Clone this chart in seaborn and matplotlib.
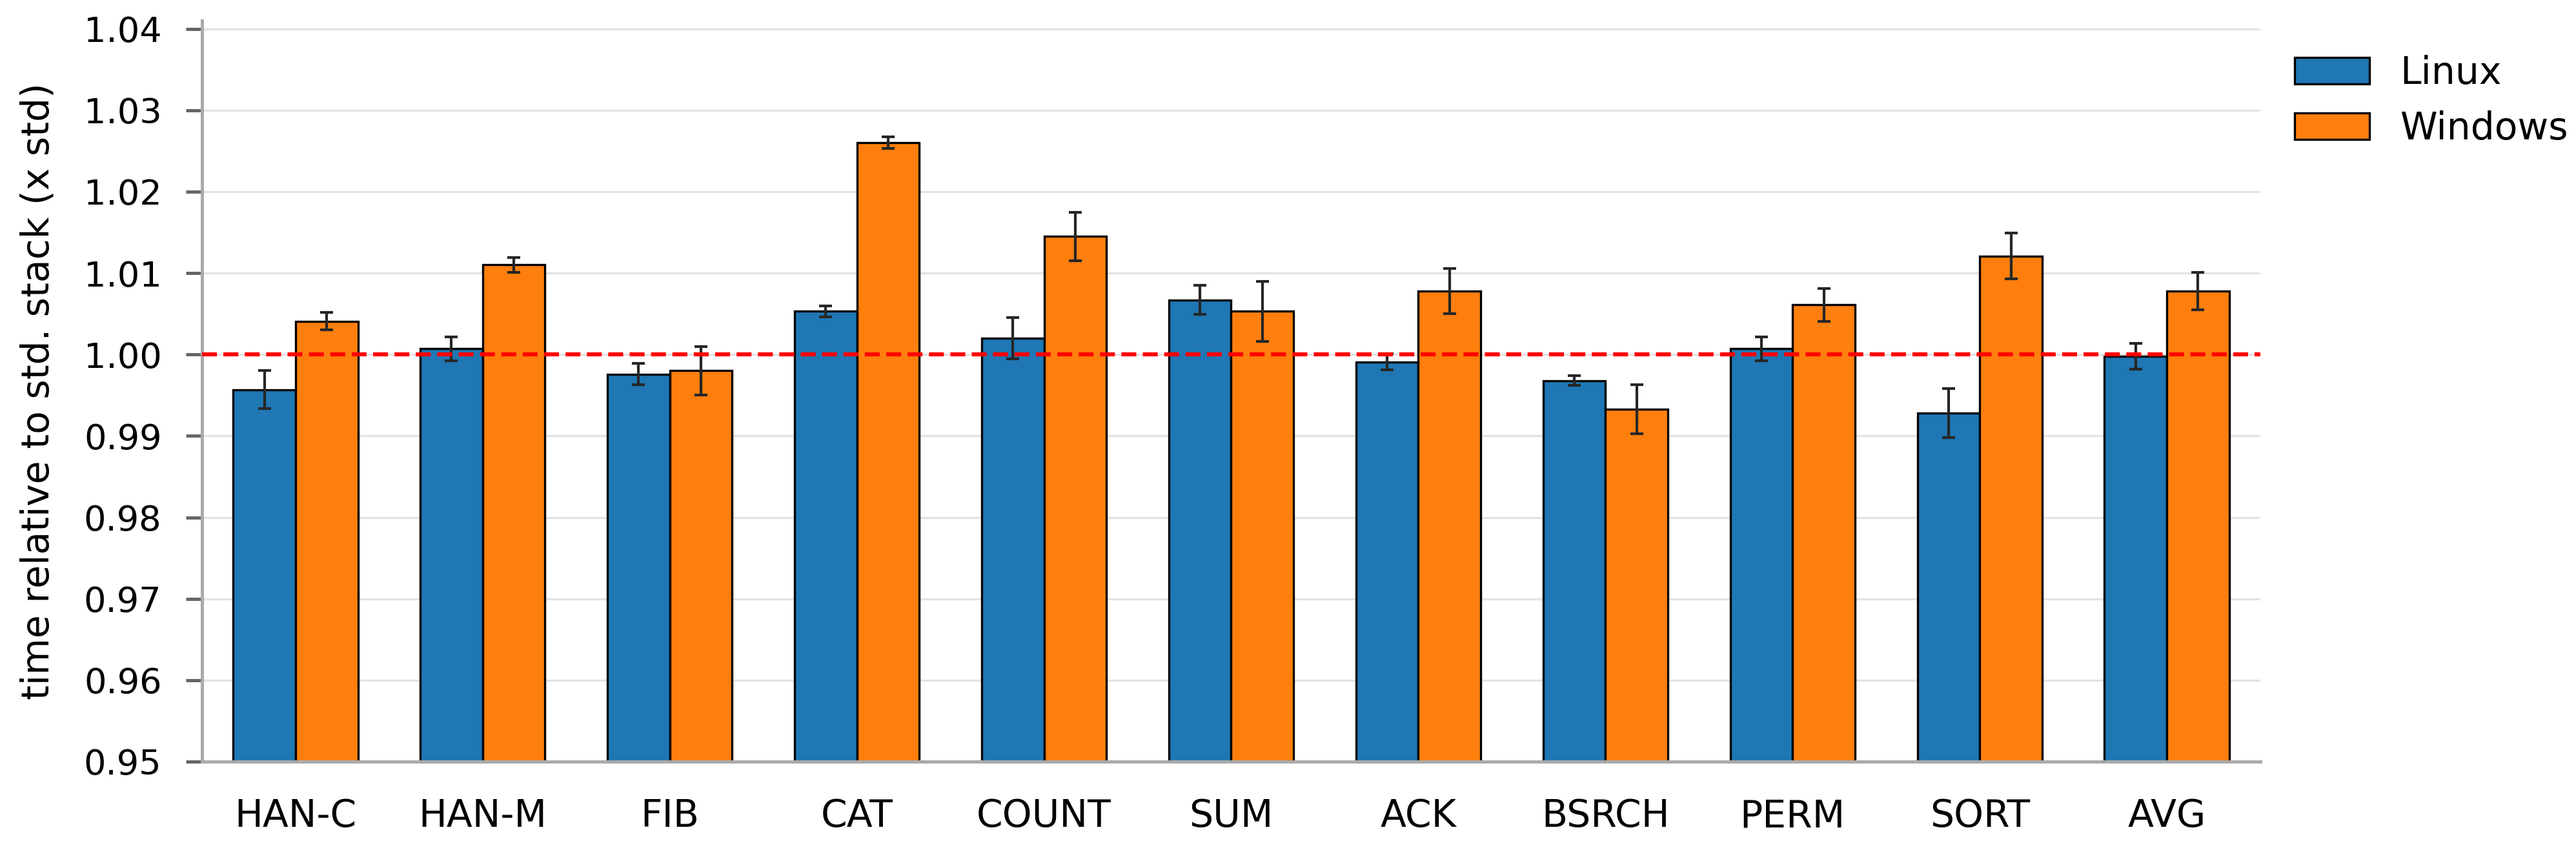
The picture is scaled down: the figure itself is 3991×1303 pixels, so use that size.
import numpy as np
import pandas as pd
import seaborn as sns
import matplotlib.pyplot as plt
from matplotlib.ticker import FormatStrFormatter

# benchmark names on the x axis
benchmarks = ["HAN-C", "HAN-M", "FIB", "CAT", "COUNT", "SUM",
              "ACK", "BSRCH", "PERM", "SORT", "AVG"]

# time relative to std. stack, with error
linux = [0.9957, 1.0007, 0.9976, 1.0053, 1.0020, 1.0067,
         0.9991, 0.9968, 1.0007, 0.9928, 0.9998]
linux_err = [0.0023, 0.0015, 0.0013, 0.0007, 0.0025, 0.0018,
             0.0010, 0.0006, 0.0015, 0.0030, 0.0016]
windows = [1.0041, 1.0110, 0.9980, 1.0260, 1.0145, 1.0053,
           1.0078, 0.9933, 1.0061, 1.0121, 1.0078]
windows_err = [0.0011, 0.0009, 0.0030, 0.0007, 0.0030, 0.0037,
               0.0028, 0.0030, 0.0020, 0.0028, 0.0023]

systems = ["Linux", "Windows"]

df = pd.DataFrame({
    "bench": benchmarks * 2,
    "system": ["Linux"] * len(benchmarks) + ["Windows"] * len(benchmarks),
    "time": linux + windows,
    "err": linux_err + windows_err,
})

sns.set_theme(style="whitegrid")
plt.rcParams['font.family'] = ['DejaVu Sans']
plt.rcParams['text.color'] = 'black'
plt.rcParams['axes.labelcolor'] = 'black'

fig, ax = plt.subplots(figsize=(3991 / 300, 1303 / 300), dpi=300)
fig.subplots_adjust(left=0.0784, right=0.8775, bottom=0.0944, top=0.9754)

sns.barplot(data=df, x="bench", y="time", hue="system", hue_order=systems,
            palette=["#1f77b4", "#ff7f0e"], width=0.667, errorbar=None,
            edgecolor="black", linewidth=0.8, saturation=1, ax=ax)

# error bars on top of each bar
for container, sys_name in zip(ax.containers, systems):
    errs = df[df["system"] == sys_name]["err"].values
    xs = [p.get_x() + p.get_width() / 2 for p in container.patches]
    ys = [p.get_y() + p.get_height() for p in container.patches]
    ax.errorbar(xs, ys, yerr=errs, fmt="none", ecolor="#262626",
                elinewidth=1.0, capsize=2.5, capthick=1.0, zorder=5)

ax.axhline(1.0, color="red", linestyle="--", linewidth=1.5, zorder=6)

ax.set_xlim(-0.5, len(benchmarks) - 0.5)
ax.set_ylim(0.95, 1.041)
ax.set_yticks(np.arange(0.95, 1.0401, 0.01))
ax.yaxis.set_major_formatter(FormatStrFormatter("%.2f"))
ax.set_xlabel("")
ax.set_ylabel("time relative to std. stack (x std)", fontsize=14, labelpad=10)

ax.grid(axis="y", color="#e3e3e3", linewidth=0.8)
ax.grid(axis="x", visible=False)
ax.set_axisbelow(True)

for side in ["top", "right"]:
    ax.spines[side].set_visible(False)
for side in ["left", "bottom"]:
    ax.spines[side].set_color("#aaaaaa")
    ax.spines[side].set_linewidth(1.2)

ax.tick_params(axis="y", labelsize=13, length=6, width=1.2,
               color="#666666", pad=9, left=True, labelcolor="black")
ax.tick_params(axis="x", labelsize=14, length=0, pad=13.5, labelcolor="black")

sns.move_legend(ax, "upper left", bbox_to_anchor=(1.0, 1.0),
                frameon=False, fontsize=14, title=None)

fig.savefig("out.png", dpi=300)
